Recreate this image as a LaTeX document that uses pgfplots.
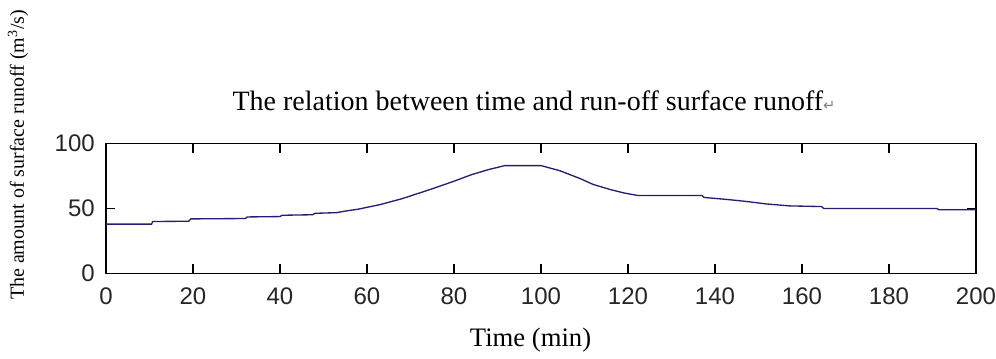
\documentclass[border=0pt]{standalone}
\usepackage{pgfplots}
\pgfplotsset{compat=1.18}
\usepackage{fontspec}
\setmainfont{Liberation Serif}
\newfontfamily\arial{Liberation Sans}
\newfontfamily\dejavu{DejaVu Sans}
\definecolor{linec}{RGB}{35,30,120}
\begin{document}
\begin{tikzpicture}
\path[use as bounding box] (-79.5pt,-63.375pt) rectangle (667.5pt,205.125pt);
\begin{axis}[
  at={(0pt,0pt)}, anchor=south west,
  scale only axis, width=652.5pt, height=97.5pt,
  xmin=0, xmax=200, ymin=0, ymax=100,
  xtick={0,20,...,200}, ytick={0,50,100},
  tick align=inside, major tick length=7pt,
  axis line style={line width=0.9pt},
  every tick/.style={black, line width=0.8pt},
  /pgf/number format/assume math mode=true,
  tick label style={font=\fontsize{18}{18}\selectfont\arial, text=black!85, inner sep=0pt},
  xticklabel style={anchor=north, yshift=-10.5pt},
  yticklabel style={anchor=east, xshift=-8.25pt},
]
\addplot[linec, line width=1pt] coordinates {
(0,38) (10.5,38) (10.7,40) (19,40.2) (19.5,42) (32,42.3) (32.5,43.5)
(40,43.8) (40.5,44.8) (47.5,45.2) (48,46.3) (53,46.8) (55,48) (58,49.5)
(63,53) (68,57.5) (74.5,64.6) (80,71) (84,76) (88,80) (91.7,83) (100,83)
(104.4,79) (109,73) (112,68.5) (116,64.5) (119,62) (122.3,60) (137,60)
(137.5,58.5) (142.6,57) (147,55.5) (151.8,53.5) (157.2,52) (164.5,51.5)
(165,50) (191,50) (191.5,49) (200,49)
};
\end{axis}
\node[font=\fontsize{21}{21}\selectfont, inner sep=0pt] at (321pt,129.4pt)
  {The relation between time and run-off surface runoff{\dejavu\fontsize{11}{11}\selectfont\color{black!50}↵}};
\node[font=\fontsize{20}{20}\selectfont, inner sep=0pt] at (318.4pt,-49.9pt) {Time (min)};
\node[font=\fontsize{15}{15}\selectfont, inner sep=0pt, rotate=90] at (-66pt,88.9pt)
  {The amount of surface runoff (m\textsuperscript{3}/s)};
\end{tikzpicture}
\end{document}
